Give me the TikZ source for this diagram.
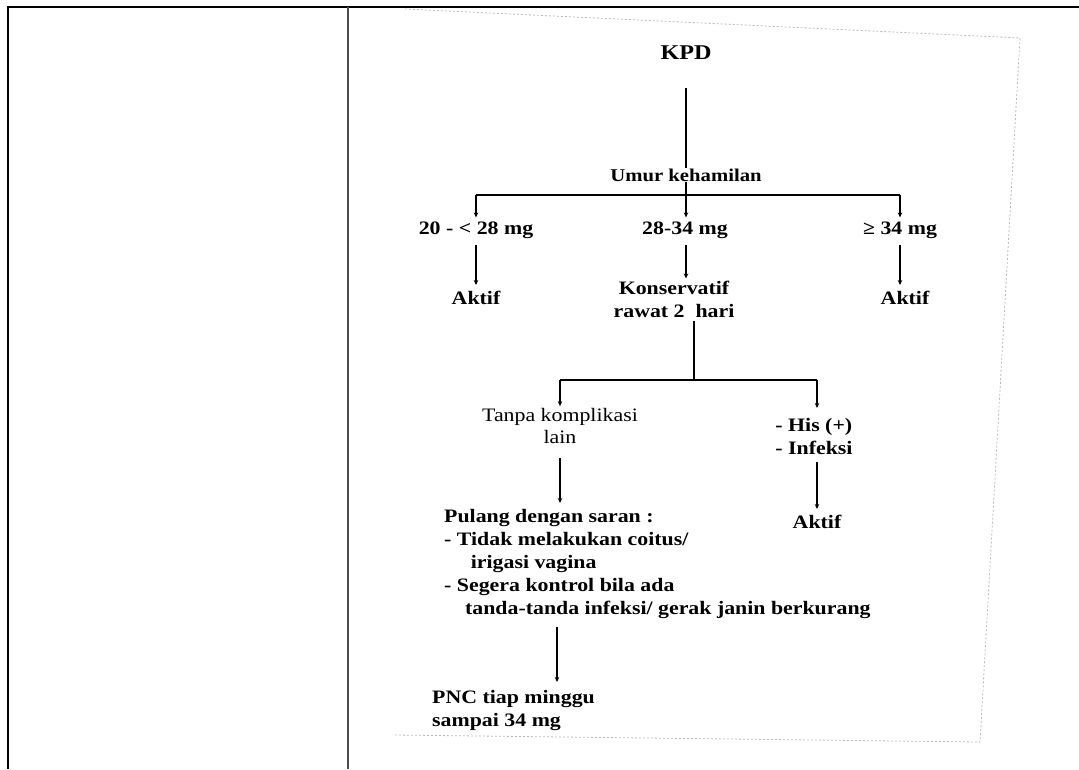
\documentclass[tikz,border=0pt]{standalone}
\usepackage{fontspec}
\setmainfont{Liberation Serif}[FakeStretch=1.15]
\usetikzlibrary{arrows.meta}
\begin{document}
\begin{tikzpicture}[x=1pt,y=-1pt,
  lbl/.style={inner sep=0pt, font=\bfseries\fontsize{19}{23}\selectfont, align=center},
  lblr/.style={inner sep=0pt, font=\fontsize{19}{22}\selectfont, align=center},
  conn/.style={line width=1.8pt, black},
  arr/.style={conn, -{Stealth[length=5pt,width=4.5pt]}},
  frame/.style={line width=2.2pt, black},
  scan/.style={line width=0.8pt, gray!55, dash pattern=on 2pt off 2pt}]
\useasboundingbox (0,0) rectangle (1079,769);
% table frame
\draw[frame] (7,7) -- (1079,7);
\draw[frame] (8,7) -- (8,769);
\draw[line width=2pt, black!70] (348,7) -- (348,769);
% scanned page edge
\draw[scan] (405,9) -- (1020,38) -- (980,742) -- (395,735);
% nodes
\node[lbl, font=\bfseries\fontsize{21}{24}\selectfont] (kpd) at (686,53) {KPD};
\node[lbl, font=\bfseries\fontsize{18}{22}\selectfont] (umur) at (686,175) {Umur kehamilan};
\node[lbl] (g1) at (476,230) {20 - < 28 mg};
\node[lbl] (g2) at (685,230) {28-34 mg};
\node[lbl] (g3) at (900,230) {≥ 34 mg};
\node[lbl] (a1) at (476,298) {Aktif};
\node[lbl] (kons) at (674,299) {Konservatif\\rawat 2\ \ hari};
\node[lbl] (a2) at (905,298) {Aktif};
\node[lblr] (tanpa) at (560,426) {Tanpa komplikasi\\lain};
\node[lbl, align=left] (his) at (814,436) {- His (+)\\- Infeksi};
\node[lbl] (a3) at (817,522) {Aktif};
\node[lbl, align=left, anchor=north west] (pulang) at (444,509)
  {Pulang dengan saran :\\- Tidak melakukan coitus/\\\hspace{1.4em}irigasi vagina\\- Segera kontrol bila ada\\\hspace{1.1em}tanda-tanda infeksi/ gerak janin berkurang};
\node[lbl, align=left, anchor=north west] (pnc) at (432,690) {PNC tiap minggu\\sampai 34 mg};
% connectors
\coordinate (b1) at (686,195);
\coordinate (b2) at (694,380);
\coordinate (p1) at (557,0);
\draw[conn, shorten <=28pt] (kpd.south) -- (umur.north);
\draw[conn] (umur.south) -- (b1);
\draw[conn] (g1.north |- b1) -- (g3.north |- b1);
\draw[arr, shorten >=4pt] (b1) -- (b1 |- g2.north);
\draw[arr, shorten >=4pt] (g1.north |- b1) -- (g1.north);
\draw[arr, shorten >=4pt] (g3.north |- b1) -- (g3.north);
\draw[arr, shorten <=6pt, shorten >=6pt] (g1.south) -- (g1.south |- a1.north);
\draw[arr, shorten <=6pt, shorten >=2pt] (b1 |- g2.south) -- (b1 |- kons.north);
\draw[arr, shorten <=6pt, shorten >=6pt] (g3.south) -- (g3.south |- a2.north);
\draw[conn, shorten <=4pt] (b2 |- kons.south) -- (b2);
\draw[conn] (tanpa.north |- b2) -- (817,380);
\draw[arr, shorten >=2pt] (tanpa.north |- b2) -- (tanpa.north);
\draw[arr] (817,380) -- (817,408);
\draw[arr, shorten <=14pt, shorten >=6pt] (tanpa.south) -- (tanpa.south |- pulang.north);
\draw[arr, shorten <=8pt, shorten >=6pt] (his.south -| a3.north) -- (a3.north);
\draw[arr, shorten <=8pt, shorten >=8pt] (p1 |- pulang.south) -- (p1 |- pnc.north);
\end{tikzpicture}
\end{document}
